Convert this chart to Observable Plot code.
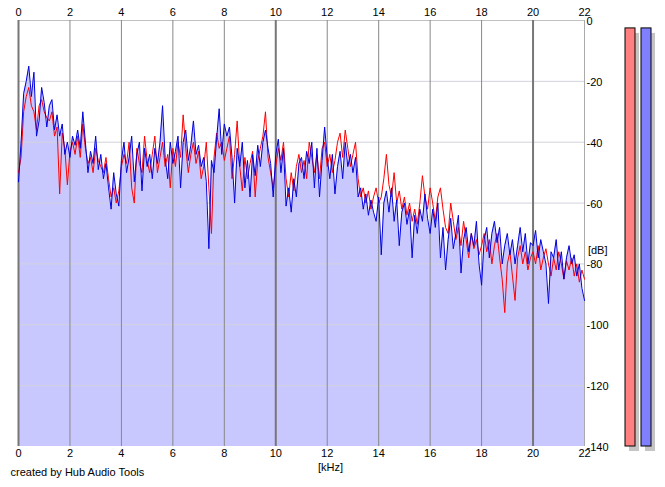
<!DOCTYPE html>
<html>
<head>
<meta charset="utf-8">
<script src="https://cdn.jsdelivr.net/npm/d3@7"></script>
<script src="https://cdn.jsdelivr.net/npm/@observablehq/plot@0.6"></script>
<style>
  html, body { margin: 0; padding: 0; background: #fff; }
  #chart { position: relative; width: 665px; height: 487px; }
</style>
</head>
<body>
<div id="chart"></div>
<script>
// Frequency step (kHz) and spectra (dB), one value per step from 0 to 22 kHz
const freqStep = 0.1;
const blueDb = [
-53,-40,-24,-20,-15,-25,-17,-38,-33,-22,
-27,-35,-28,-26,-36,-31,-38,-34,-44,-40,
-45,-38,-41,-36,-42,-30,-40,-50,-43,-47,
-38,-49,-44,-52,-47,-55,-62,-50,-57,-61,
-46,-40,-50,-45,-38,-53,-44,-40,-56,-42,
-48,-44,-52,-42,-47,-40,-28,-45,-52,-40,
-47,-43,-38,-55,-40,-36,-46,-41,-33,-44,
-41,-48,-45,-53,-75,-46,-50,-39,-29,-44,
-34,-38,-35,-45,-60,-42,-48,-40,-55,-46,
-58,-44,-51,-41,-48,-40,-36,-42,-47,-58,
-44,-39,-50,-42,-61,-55,-63,-52,-58,-47,
-45,-52,-43,-47,-40,-55,-42,-58,-46,-35,
-45,-52,-44,-57,-48,-43,-52,-40,-48,-44,
-50,-45,-58,-55,-62,-57,-64,-59,-63,-66,
-58,-77,-60,-56,-63,-55,-66,-59,-74,-63,
-60,-67,-62,-78,-64,-70,-62,-66,-57,-65,
-70,-62,-68,-60,-78,-68,-82,-72,-65,-75,
-70,-64,-83,-72,-68,-76,-70,-74,-66,-80,
-87,-72,-68,-78,-70,-66,-73,-68,-80,-74,
-70,-77,-72,-80,-74,-68,-76,-70,-80,-73,
-74,-69,-78,-72,-76,-80,-93,-76,-78,-72,
-82,-76,-85,-78,-74,-80,-77,-84,-80,-88,
-92
];
const redDb = [
-50,-45,-30,-25,-22,-28,-30,-36,-28,-26,
-30,-32,-33,-30,-38,-35,-57,-37,-42,-54,
-43,-40,-44,-38,-45,-34,-42,-47,-45,-50,
-42,-46,-48,-50,-45,-52,-58,-55,-60,-56,
-48,-44,-47,-40,-55,-60,-42,-47,-50,-38,
-46,-50,-44,-38,-50,-45,-40,-48,-44,-55,
-42,-48,-40,-45,-31,-42,-50,-44,-40,-47,
-43,-52,-48,-40,-55,-70,-45,-37,-42,-40,
-46,-42,-38,-52,-44,-33,-48,-56,-45,-52,
-47,-43,-58,-46,-42,-38,-30,-45,-50,-55,
-48,-42,-46,-40,-52,-58,-50,-56,-48,-44,
-50,-46,-52,-40,-45,-50,-44,-52,-42,-40,
-48,-44,-50,-46,-40,-37,-45,-36,-42,-48,
-44,-40,-52,-58,-55,-60,-56,-62,-58,-55,
-60,-58,-52,-44,-54,-58,-50,-60,-56,-62,
-58,-64,-60,-66,-62,-67,-60,-51,-58,-62,
-55,-60,-66,-58,-55,-62,-68,-70,-60,-66,
-72,-68,-74,-66,-72,-78,-70,-75,-72,-77,
-74,-70,-76,-72,-80,-74,-70,-78,-85,-96,
-80,-76,-84,-92,-78,-74,-80,-76,-82,-78,
-76,-80,-74,-82,-78,-75,-80,-84,-78,-82,
-76,-80,-85,-79,-82,-78,-84,-80,-86,-82,
-85
];
// Axis ticks
const xTicks = [0,2,4,6,8,10,12,14,16,18,20,22];
const xMajor = [0,10,20];
const yTicks = [0,-20,-40,-60,-80,-100,-120,-140];
// Level meters (peak level in dB)
const meterNames = ["left","right"];
const meterLevels = [-2.6,-2.6];
const meterColors = ["#ff8080","#8080ff"];
const xLabel = "[kHz]";
const yLabel = "[dB]";
const caption = "created by Hub Audio Tools";

const blue = blueDb.map((v, i) => ({f: +(i * freqStep).toFixed(2), v}));
const red = redDb.map((v, i) => ({f: +(i * freqStep).toFixed(2), v}));
const xMinor = xTicks.filter(t => !xMajor.includes(t));
const yGrid = yTicks.filter(t => t !== 0 && t !== -140);

const meterMarks = [];
meterNames.forEach((name, k) => {
  const d = [{name, level: meterLevels[k]}];
  const off = 41 + k * 16;
  meterMarks.push(Plot.rect(d, {x1: 22, x2: 22, y1: -140, y2: "level", dx: off + 4, dy: 5, insetRight: -10, fill: "#c4c4c4"}));
  meterMarks.push(Plot.rect(d, {x1: 22, x2: 22, y1: -140, y2: "level", dx: off, insetRight: -10, fill: meterColors[k], stroke: "#000", strokeWidth: 1}));
});

const plot = Plot.plot({
  width: 665,
  height: 487,
  marginLeft: 18,
  marginRight: 81,
  marginTop: 20,
  marginBottom: 41,
  style: {fontFamily: "'Liberation Sans', Arial, sans-serif", fontSize: "11px", background: "#fff", color: "#000"},
  x: {domain: [0, 22]},
  y: {domain: [-140, 0]},
  marks: [
    Plot.areaY(blue, {x: "f", y1: -140, y2: "v", fill: "#c8c8ff"}),
    Plot.ruleY(yGrid, {stroke: "#d2d2dc", strokeWidth: 1}),
    Plot.ruleY([0], {stroke: "#c0c0c0", strokeWidth: 1}),
    Plot.ruleX(xMinor.filter(t => t !== 22), {stroke: "#888", strokeWidth: 1}),
    Plot.ruleX([22], {stroke: "#aaa", strokeWidth: 1}),
    Plot.ruleX(xMajor, {stroke: "#777", strokeWidth: 2}),
    Plot.lineY(red, {x: "f", y: "v", stroke: "#ff0000", strokeWidth: 1}),
    Plot.lineY(blue, {x: "f", y: "v", stroke: "#0000dd", strokeWidth: 1}),
    Plot.axisX({anchor: "top", ticks: xTicks, tickSize: 0, tickPadding: 5, label: null}),
    Plot.axisX({anchor: "bottom", ticks: xTicks, tickSize: 0, tickPadding: 3, label: null}),
    Plot.axisY({anchor: "right", ticks: yTicks, tickSize: 0, tickPadding: 2, label: null, dy: 1, tickFormat: d => d === 0 ? "0" : String(d)}),
    Plot.text([xLabel], {frameAnchor: "bottom", dx: 29, dy: 24, text: d => d}),
    Plot.text([yLabel], {frameAnchor: "right", dx: 23, dy: 17, text: d => d}),
    Plot.text([caption], {frameAnchor: "bottom-left", dx: -8, dy: 29, textAnchor: "start", text: d => d}),
    ...meterMarks
  ]
});
document.getElementById("chart").appendChild(plot);
</script>
</body>
</html>
